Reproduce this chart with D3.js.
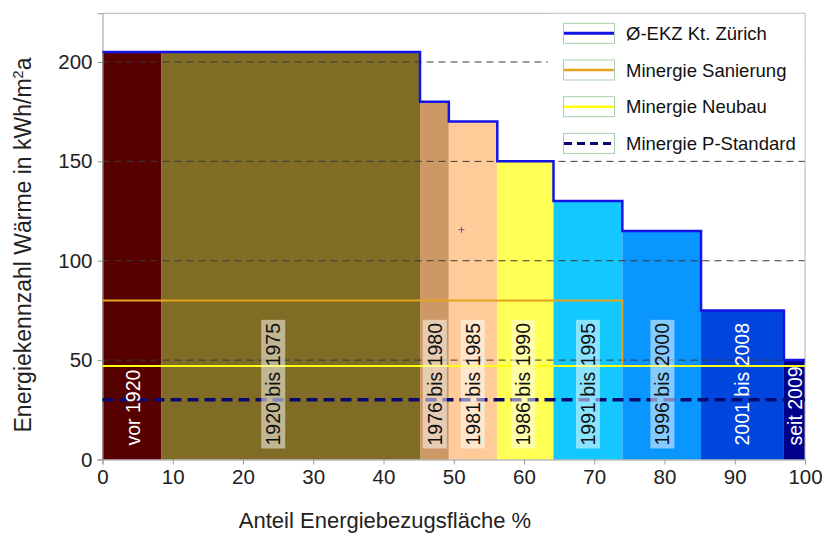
<!DOCTYPE html>
<html>
<head>
<meta charset="utf-8">
<script src="https://cdn.jsdelivr.net/npm/d3@7"></script>
<style>
  html, body { margin: 0; padding: 0; background: #fff; }
  svg { display: block; font-family: "Liberation Sans", Arial, sans-serif; }
</style>
</head>
<body>
<svg id="chart" width="834" height="533"></svg>
<script>
// ---- data ----
const periods = ["vor 1920", "1920 bis 1975", "1976 bis 1980", "1981 bis 1985", "1986 bis 1990",
                 "1991 bis 1995", "1996 bis 2000", "2001 bis 2008", "seit 2009"];
const shareEdges = [0, 8.4, 45.2, 49.3, 56.2, 64.2, 74.0, 85.2, 97.0, 100];
const ekzValues = [205, 205, 180, 170, 150, 130, 115, 75, 50];
const labelShares = [4.3, 24.3, 47.3, 52.7, 59.9, 69.1, 79.7, 91.0, 98.6];
const barColors = ["#560000", "#806c25", "#cc9865", "#ffcc99", "#ffff55",
                   "#12c8ff", "#0a96ff", "#0046dc", "#00008a"];
const whiteLabel = [true, false, false, false, false, false, false, true, true];
const minergieSanierung = 80;
const sanierungEndShare = 74;
const minergieNeubau = 47;
const minergiePStandard = 30;
const xTicks = [0, 10, 20, 30, 40, 50, 60, 70, 80, 90, 100];
const yTicks = [0, 50, 100, 150, 200];
const gridValues = [50, 100, 150, 200];
const legendItems = ["Ø-EKZ Kt. Zürich", "Minergie Sanierung", "Minergie Neubau", "Minergie P-Standard"];
const markerPoint = [51.1, 115.6];

// ---- layout ----
const svg = d3.select("#chart");
const mLeft = 102.5, mRight = 805, mTop = 13.3, mBottom = 459.5;
const x = d3.scaleLinear().domain([0, 100]).range([mLeft, mRight]);
const y = d3.scaleLinear().domain([0, 224.5]).range([mBottom, mTop]);

// bars
const bars = periods.map((p, i) => ({ label: p, x0: shareEdges[i], x1: shareEdges[i + 1], v: ekzValues[i], c: barColors[i], w: whiteLabel[i], lx: labelShares[i] }));
svg.append("g").selectAll("rect").data(bars).join("rect")
  .attr("x", d => x(d.x0)).attr("width", d => x(d.x1) - x(d.x0))
  .attr("y", d => y(d.v)).attr("height", d => y(0) - y(d.v))
  .attr("fill", d => d.c);

// gridlines
svg.append("g").selectAll("line").data(gridValues).join("line")
  .attr("x1", mLeft).attr("x2", mRight)
  .attr("y1", d => y(d)).attr("y2", d => y(d))
  .attr("stroke", "#3a3a3a").attr("stroke-width", 1).attr("stroke-dasharray", "7,5");

// frame
svg.append("line").attr("x1", mLeft).attr("x2", mRight).attr("y1", mTop).attr("y2", mTop).attr("stroke", "#b0b0b0");
svg.append("line").attr("x1", mRight).attr("x2", mRight).attr("y1", mTop).attr("y2", mBottom).attr("stroke", "#b0b0b0");

// axes
const xAxis = svg.append("g").attr("transform", `translate(0,${mBottom})`)
  .call(d3.axisBottom(x).tickValues(xTicks).tickSize(5).tickPadding(5));
const yAxis = svg.append("g").attr("transform", `translate(${mLeft},0)`)
  .call(d3.axisLeft(y).tickValues(yTicks).tickSize(5).tickPadding(5));
[xAxis, yAxis].forEach(a => {
  a.selectAll("path").attr("stroke", "#9a9a9a");
  a.selectAll("line").attr("stroke", "#9a9a9a");
  a.selectAll("text").attr("fill", "#222").style("font-size", "20.5px").style("font-family", "Liberation Sans, Arial, sans-serif");
});

// Minergie lines
const line = d3.line().x(d => x(d[0])).y(d => y(d[1]));
svg.append("path").datum([[0, minergieSanierung], [sanierungEndShare, minergieSanierung], [sanierungEndShare, minergieNeubau]])
  .attr("d", line).attr("fill", "none").attr("stroke", "#e5a21c").attr("stroke-width", 2);
svg.append("path").datum([[0, minergieNeubau], [100, minergieNeubau]])
  .attr("d", line).attr("fill", "none").attr("stroke", "#ffff10").attr("stroke-width", 2);
svg.append("path").datum([[0, minergiePStandard], [100, minergiePStandard]])
  .attr("d", line).attr("fill", "none").attr("stroke", "#0a0a6e").attr("stroke-width", 3.5).attr("stroke-dasharray", "11,6");

// EKZ step outline
const stepPts = [];
bars.forEach(d => { stepPts.push([d.x0, d.v]); stepPts.push([d.x1, d.v]); });
svg.append("path").datum(stepPts).attr("d", line)
  .attr("fill", "none").attr("stroke", "#1414e6").attr("stroke-width", 2.5);

// period labels
const labG = svg.append("g");
bars.forEach(d => {
  const cx = x(d.lx);
  const g = labG.append("g").attr("transform", `translate(${cx + 7},${y(0) - 14}) rotate(-90)`);
  const t = g.append("text").attr("x", 0).attr("y", 0)
    .style("font-size", "19.5px")
    .attr("fill", d.w ? "#ffffff" : "#111")
    .text(d.label);
  if (!d.w) {
    const bb = t.node().getBBox();
    g.insert("rect", "text").attr("x", bb.x - 3).attr("y", bb.y - 1)
      .attr("width", bb.width + 6).attr("height", bb.height + 2)
      .attr("fill", "#ffffff").attr("fill-opacity", 0.5);
  }
});

// small marker
const mx = x(markerPoint[0]), my = y(markerPoint[1]);
svg.append("path").attr("d", `M${mx - 3},${my}H${mx + 3}M${mx},${my - 3}V${my + 3}`)
  .attr("stroke", "#6a50b0").attr("stroke-width", 1);

// legend
const lg = svg.append("g");
lg.append("rect").attr("x", 548).attr("y", mTop + 0.5).attr("width", mRight - 548 - 0.5).attr("height", 145).attr("fill", "#fff");
const legStyles = [
  { c: "#1414e6", w: 3, dash: null },
  { c: "#e5a21c", w: 2.5, dash: null },
  { c: "#ffff10", w: 2.5, dash: null },
  { c: "#0a0a6e", w: 3, dash: "8,5" }
];
legendItems.forEach((name, i) => {
  const cy = 33.3 + i * 36.7;
  lg.append("rect").attr("x", 563.5).attr("y", cy - 10).attr("width", 51).attr("height", 20)
    .attr("fill", "#fff").attr("stroke", "#a9cfa9").attr("stroke-width", 1);
  lg.append("line").attr("x1", 564).attr("x2", 614).attr("y1", cy).attr("y2", cy)
    .attr("stroke", legStyles[i].c).attr("stroke-width", legStyles[i].w)
    .attr("stroke-dasharray", legStyles[i].dash);
  lg.append("text").attr("x", 626).attr("y", cy + 6.5).style("font-size", "18.5px").attr("fill", "#111").text(name);
});

// axis titles
svg.append("text").attr("x", 385).attr("y", 528).attr("text-anchor", "middle")
  .style("font-size", "22px").attr("fill", "#222").text("Anteil  Energiebezugsfläche %");
const yt = svg.append("text").attr("transform", `translate(31,245) rotate(-90)`).attr("text-anchor", "middle")
  .style("font-size", "23px").attr("fill", "#222");
yt.append("tspan").text("Energiekennzahl Wärme in kWh/m");
yt.append("tspan").attr("dy", -8).style("font-size", "14.5px").text("2");
yt.append("tspan").attr("dy", 8).text("a");
</script>
</body>
</html>
